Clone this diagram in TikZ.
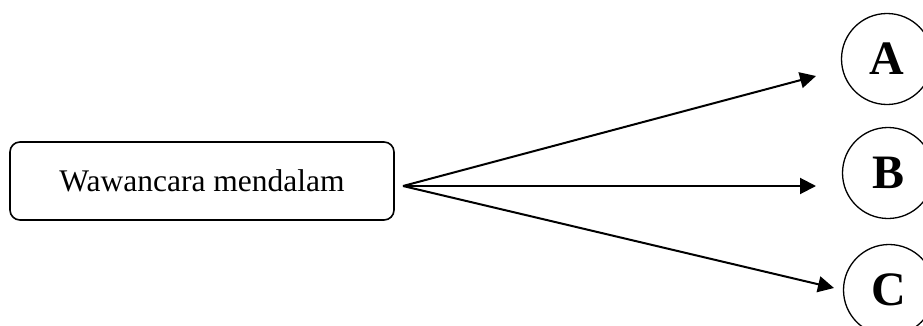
\documentclass[tikz,border=0pt]{standalone}
\usepackage{fontspec}
\setmainfont{Liberation Serif}
\usetikzlibrary{arrows.meta}
\begin{document}
\begin{tikzpicture}[x=1pt,y=1pt,
  mainbox/.style={draw, line width=1.6pt, rounded corners=10pt, minimum width=384pt, minimum height=78pt, inner sep=0pt, font=\fontsize{31.5}{36}\selectfont},
  letter/.style={draw, circle, line width=1.3pt, minimum size=91pt, inner sep=0pt, font=\fontsize{48}{54}\selectfont\bfseries},
  conn/.style={line width=2pt, -{Triangle[length=16pt,width=16pt]}}]
\useasboundingbox (0,0) rectangle (923,325);
\node[mainbox] (box) at (202,144) {Wawancara mendalam};
\node[letter] (A) at (887,266) {A};
\node[letter] (B) at (888,152) {B};
\node[letter] (C) at (889,35) {C};
\coordinate (s) at (403,139);
\coordinate (ea) at (816,249);
\coordinate (eb) at (816,139);
\coordinate (ec) at (834,37);
\draw[conn] (s) -- (ea);
\draw[conn] (s) -- (eb);
\draw[conn] (s) -- (ec);
\end{tikzpicture}
\end{document}
